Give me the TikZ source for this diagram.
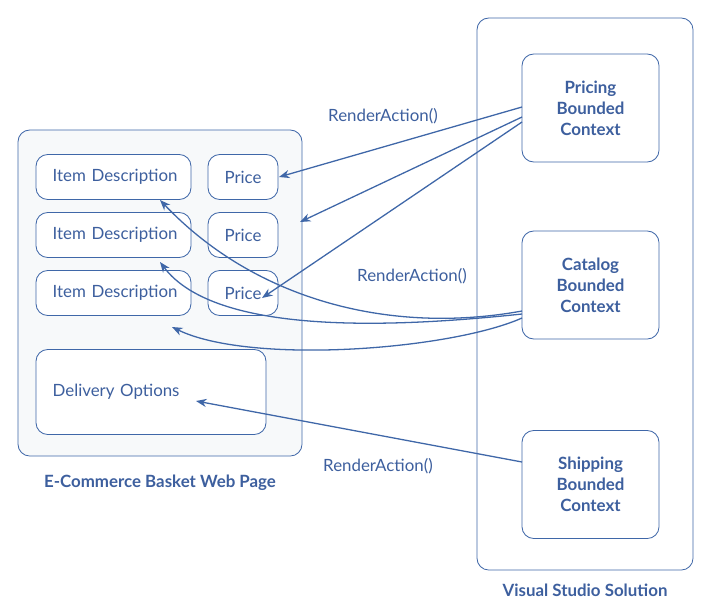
\documentclass[tikz,border=0pt]{standalone}
\usepackage{fontspec}
\setmainfont{Lato}
\usetikzlibrary{arrows.meta}
\definecolor{edgeblue}{HTML}{3F67A8}
\definecolor{textblue}{HTML}{3D5F9E}
\definecolor{panel}{HTML}{F7F9FA}
\begin{document}
\begin{tikzpicture}
    [x=0.03cm, y=-0.03cm,
    box/.style={draw=edgeblue, rounded corners=10pt, fill=white, text=textblue,
        line width=0.7pt, font=\Large, inner sep=0pt},
    ctx/.style={box, minimum width=4.11cm, minimum height=3.24cm, font=\Large\bfseries, align=center},
    call/.style={draw=edgeblue, line width=1.1pt, -{Stealth[length=9pt,width=7pt]}},
    caption/.style={text=textblue, font=\Large\bfseries},
    every label/.style={text=textblue}]
    \useasboundingbox (0,0) rectangle (712,613);
    % web page
    \node[box, fill=panel, minimum width=8.52cm, minimum height=9.78cm] (page) at (160,293) {};
    \node[caption] (pagelabel) at (160,483) {E-Commerce Basket Web Page};
    \foreach \i/\y in {1/177, 2/235, 3/293} {
        \node[box, minimum width=4.65cm, minimum height=1.35cm, text width=3.65cm] (item\i) at (113.5,\y) {\mbox{Item Description}};
        \node[box, minimum width=2.1cm, minimum height=1.35cm] (price\i) at (243,\y) {Price};
    }
    \node[box, minimum width=6.9cm, minimum height=2.55cm, text width=5.9cm] (delivery) at (151,392) {Delivery Options};
    % solution
    \node[box, fill=white, minimum width=6.48cm, minimum height=16.56cm] (solution) at (585,294) {};
    \node[caption] (solutionlabel) at (585,590) {Visual Studio Solution};
    \node[ctx] (pricing) at (590.5,108) {Pricing\\Bounded\\Context};
    \node[ctx] (catalog) at (590.5,285) {Catalog\\Bounded\\Context};
    \node[ctx] (shipping) at (590.5,484.5) {Shipping\\Bounded\\Context};
    % calls
    \coordinate (p1) at (522,107); \coordinate (p2) at (522,117); \coordinate (p3) at (522,122);
    \coordinate (c1) at (522,311); \coordinate (c2) at (522,314); \coordinate (c3) at (522,318);
    \coordinate (s1) at (522,462);
    \coordinate (t1) at (279,177); \coordinate (t2) at (300,222); \coordinate (t3) at (262,298);
    \coordinate (u1) at (160,200); \coordinate (u2) at (160,262); \coordinate (u3) at (172,327);
    \coordinate (v1) at (196,401);
    \draw[call] (p1) -- (t1);
    \draw[call] (p2) -- (t2);
    \draw[call] (p3) -- (t3);
    \draw[call] (c1) .. controls (390,335) and (255,300) .. (u1);
    \draw[call] (c2) .. controls (390,328) and (215,335) .. (u2);
    \draw[call] (c3) .. controls (450,350) and (250,365) .. (u3);
    \draw[call] (s1) -- (v1);
    \node[text=textblue, font=\Large] (call1) at (383,116) {RenderAction()};
    \node[text=textblue, font=\Large] (call2) at (412,276) {RenderAction()};
    \node[text=textblue, font=\Large] (call3) at (378,466) {RenderAction()};
\end{tikzpicture}
\end{document}
